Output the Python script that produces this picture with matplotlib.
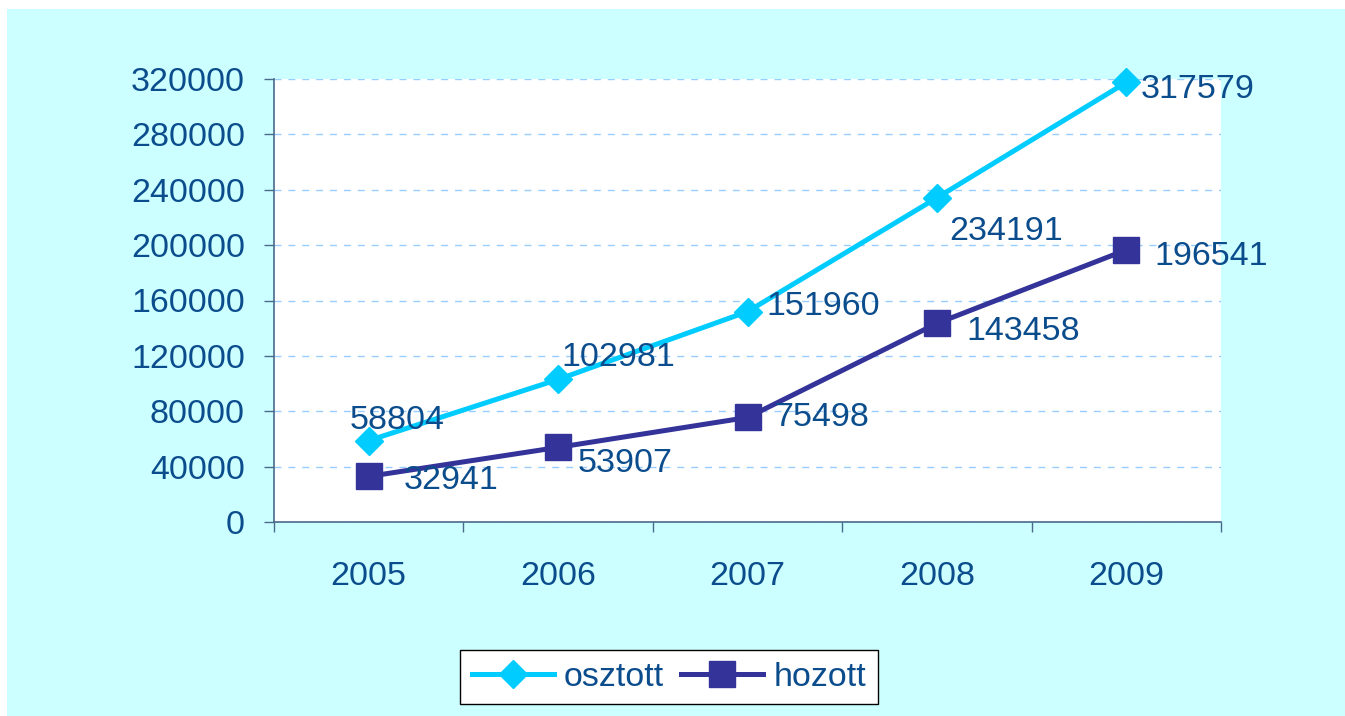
import matplotlib
matplotlib.use("Agg")
import matplotlib.pyplot as plt
from matplotlib.patches import Rectangle
from matplotlib.ticker import FixedLocator

years = ["2005", "2006", "2007", "2008", "2009"]
osztott = [58804, 102981, 151960, 234191, 317579]
hozott = [32941, 53907, 75498, 143458, 196541]
yticks = [0, 40000, 80000, 120000, 160000, 200000, 240000, 280000, 320000]

# label offsets (pixels) for data labels
off_o = [(28, 20), (60, 22), (76, 5), (69, -34), (71, -7)]
off_h = [(82, -4), (67, -16), (74, 0), (86, -8), (85, -7)]

TXT = "#0B4C8C"
C_O = "#00CCFF"
C_H = "#333399"
BG = "#CCFFFF"
FS = 24.5

plt.rcParams['font.family'] = ['Liberation Sans', 'DejaVu Sans']
fig = plt.figure(figsize=(13.45, 7.16), dpi=100)
fig.patch.set_facecolor("white")
fig.patches.append(Rectangle((7/1345, 0), 1 - 7/1345, 1 - 9/716, transform=fig.transFigure,
                             facecolor=BG, edgecolor="none", zorder=-10))

ax = fig.add_axes([274/1345, 1 - 522/716, (1221 - 274)/1345, (522 - 79)/716])
ax.set_facecolor("white")
x = list(range(len(years)))

ax.plot(x, osztott, color=C_O, lw=3.6, marker="D", markersize=14.5, label="osztott",
        solid_joinstyle="round", zorder=3, clip_on=False)
ax.plot(x, hozott, color=C_H, lw=3.6, marker="s", markersize=18.5, label="hozott",
        solid_joinstyle="round", zorder=3, clip_on=False)

for i in x:
    ax.annotate(f"{osztott[i]}", (i, osztott[i]), xytext=(off_o[i][0] * 0.72, off_o[i][1] * 0.72),
                textcoords="offset points", ha="center", va="center", fontsize=FS, color=TXT, zorder=4)
    ax.annotate(f"{hozott[i]}", (i, hozott[i]), xytext=(off_h[i][0] * 0.72, off_h[i][1] * 0.72),
                textcoords="offset points", ha="center", va="center", fontsize=FS, color=TXT, zorder=4)

ax.set_xlim(-0.5, 4.5)
ax.set_ylim(0, 320000)
ax.set_yticks(yticks)
ax.set_yticklabels([str(v) for v in yticks])
ax.xaxis.set_major_locator(FixedLocator([i - 0.5 for i in range(len(years) + 1)]))
ax.xaxis.set_minor_locator(FixedLocator(x))
ax.set_xticklabels([])
ax.set_xticklabels(years, minor=True)
ax.tick_params(axis="x", which="major", length=7, width=1, color="#4A6A8A", direction="out")
ax.tick_params(axis="x", which="minor", length=0, pad=28, labelsize=FS, labelcolor=TXT)
ax.tick_params(axis="y", length=7, width=1, color="#4A6A8A", direction="out", pad=14,
               labelsize=FS, labelcolor=TXT)

ax.grid(axis="y", color="#99CCFF", linestyle=(0, (5, 5)), lw=1)
ax.set_axisbelow(True)
for s in ["top", "right"]:
    ax.spines[s].set_visible(False)
for s in ["left", "bottom"]:
    ax.spines[s].set_color("#4A6A8A")
    ax.spines[s].set_linewidth(1.2)

leg = fig.legend(loc="center", bbox_to_anchor=(669/1345, 1 - 677/716), ncol=2, fontsize=FS,
                 frameon=True, fancybox=False, edgecolor="black", handlelength=2.4,
                 columnspacing=0.5, handletextpad=0.3, borderpad=0.35, framealpha=1.0)
leg.get_frame().set_linewidth(1.0)
for t in leg.get_texts():
    t.set_color(TXT)

fig.savefig("out.png", dpi=100, facecolor=fig.get_facecolor())
